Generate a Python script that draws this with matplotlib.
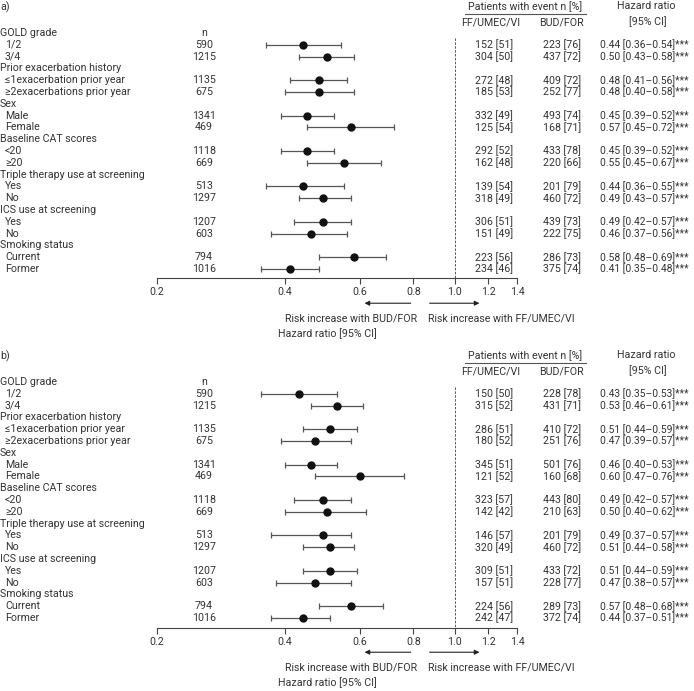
import numpy as np
import matplotlib
matplotlib.use('Agg')
import matplotlib.pyplot as plt
from matplotlib.ticker import NullLocator
from matplotlib.transforms import blended_transform_factory

plt.rcParams['font.family'] = ['Roboto', 'DejaVu Sans']
plt.rcParams['font.size'] = 7.7

groups = ['GOLD grade', 'Prior exacerbation history', 'Sex', 'Baseline CAT scores',
          'Triple therapy use at screening', 'ICS use at screening', 'Smoking status']
subgroups = [['1/2', '3/4'], ['≤1exacerbation prior year', '≥2exacerbations prior year'],
             ['Male', 'Female'], ['<20', '≥20'], ['Yes', 'No'], ['Yes', 'No'], ['Current', 'Former']]
n_pat = [590, 1215, 1135, 675, 1341, 469, 1118, 669, 513, 1297, 1207, 603, 794, 1016]

# panel a
a_hr = [0.44, 0.50, 0.48, 0.48, 0.45, 0.57, 0.45, 0.55, 0.44, 0.49, 0.49, 0.46, 0.58, 0.41]
a_lo = [0.36, 0.43, 0.41, 0.40, 0.39, 0.45, 0.39, 0.45, 0.36, 0.43, 0.42, 0.37, 0.48, 0.35]
a_hi = [0.54, 0.58, 0.56, 0.58, 0.52, 0.72, 0.52, 0.67, 0.55, 0.57, 0.57, 0.56, 0.69, 0.48]
a_ff_n = [152, 304, 272, 185, 332, 125, 292, 162, 139, 318, 306, 151, 223, 234]
a_ff_p = [51, 50, 48, 53, 49, 54, 52, 48, 54, 49, 51, 49, 56, 46]
a_bud_n = [223, 437, 409, 252, 493, 168, 433, 220, 201, 460, 439, 222, 286, 375]
a_bud_p = [76, 72, 72, 77, 74, 71, 78, 66, 79, 72, 73, 75, 73, 74]

# panel b
b_hr = [0.43, 0.53, 0.51, 0.47, 0.46, 0.60, 0.49, 0.50, 0.49, 0.51, 0.51, 0.47, 0.57, 0.44]
b_lo = [0.35, 0.46, 0.44, 0.39, 0.40, 0.47, 0.42, 0.40, 0.37, 0.44, 0.44, 0.38, 0.48, 0.37]
b_hi = [0.53, 0.61, 0.59, 0.57, 0.53, 0.76, 0.57, 0.62, 0.57, 0.58, 0.59, 0.57, 0.68, 0.51]
b_ff_n = [150, 315, 286, 180, 345, 121, 323, 142, 146, 320, 309, 157, 224, 242]
b_ff_p = [50, 52, 51, 52, 51, 52, 57, 42, 57, 49, 51, 51, 56, 47]
b_bud_n = [228, 431, 410, 251, 501, 160, 443, 210, 201, 460, 433, 228, 289, 372]
b_bud_p = [78, 71, 72, 76, 76, 68, 80, 63, 79, 72, 72, 77, 73, 74]

ticks = [0.2, 0.4, 0.6, 0.8, 1.0, 1.2, 1.4]

W, H = 694, 691
TXT = '#333333'
fig = plt.figure(figsize=(W / 100, H / 100), dpi=100)


def draw_panel(letter, y_top, y_gold, y_spine, hr, lo, hi, ff_n, ff_p, bud_n, bud_p):
    s = 11.8
    ax = fig.add_axes([157 / W, 1 - y_spine / H, 360 / W, (y_spine - y_top) / H])
    ax.set_xscale('log')
    ax.set_xlim(0.2, 1.4)
    ax.set_ylim((y_spine - y_gold) / s, (y_top - y_gold) / s)
    for sp in ['left', 'right', 'top']:
        ax.spines[sp].set_visible(False)
    ax.spines['bottom'].set_linewidth(0.8)
    ax.spines['bottom'].set_color('#444444')
    ax.set_yticks([])
    ax.set_xticks(ticks)
    ax.set_xticklabels([f'{t:.1f}' for t in ticks], color=TXT)
    ax.xaxis.set_minor_locator(NullLocator())
    ax.tick_params(axis='x', length=4, width=0.8, color='#444444', pad=2.5)
    ax.patch.set_alpha(0)

    tr = blended_transform_factory(fig.transFigure, ax.transData)
    fx = lambda px: px / W

    rows = []
    r = 0
    for g, subs in zip(groups, subgroups):
        ax.text(fx(0), r, g, transform=tr, va='center', ha='left', color=TXT)
        r += 1
        for sg in subs:
            ax.text(fx(5), r, sg, transform=tr, va='center', ha='left', color=TXT)
            rows.append(r)
            r += 1
    rows = np.array(rows)
    hr, lo, hi = np.array(hr), np.array(lo), np.array(hi)

    ax.plot([1, 1], [0.4, ax.get_ylim()[0]], ls=(0, (2.5, 1.5)), lw=0.7,
            color='#555555', clip_on=False)
    ax.errorbar(hr, rows, xerr=[hr - lo, hi - hr], fmt='o', color='#111111', ms=5,
                ecolor='#555555', elinewidth=0.9, capsize=2.3, capthick=0.9, clip_on=False)

    for i, y in enumerate(rows):
        ax.text(fx(204), y, str(n_pat[i]), transform=tr, ha='center', va='center', color=TXT)
        ax.text(fx(494), y, f'{ff_n[i]} [{ff_p[i]}]', transform=tr, ha='center', va='center', color=TXT)
        ax.text(fx(562), y, f'{bud_n[i]} [{bud_p[i]}]', transform=tr, ha='center', va='center', color=TXT)
        ax.text(fx(600), y, f'{hr[i]:.2f} [{lo[i]:.2f}–{hi[i]:.2f}]***', transform=tr,
                ha='left', va='center', color=TXT, fontsize=7.4)

    ax.text(fx(204), 0, 'n', transform=tr, ha='center', va='center', color=TXT)
    ax.text(fx(0), -2.15, letter, transform=tr, ha='left', va='center', color=TXT)
    ax.text(fx(525), -2.25, 'Patients with event n [%]', transform=tr, ha='center', va='center', color=TXT)
    ax.plot([fx(465), fx(586)], [-1.6, -1.6], transform=tr, color='#555555', lw=0.8, clip_on=False)
    ax.text(fx(491), -0.85, 'FF/UMEC/VI', transform=tr, ha='center', va='center', color=TXT)
    ax.text(fx(561), -0.85, 'BUD/FOR', transform=tr, ha='center', va='center', color=TXT)
    ax.text(fx(646), -2.25, 'Hazard ratio', transform=tr, ha='center', va='center', color=TXT)
    ax.text(fx(648), -0.95, '[95% CI]', transform=tr, ha='center', va='center', color=TXT)

    ya = 22.9
    ax.annotate('', xy=(0.605, ya), xytext=(0.80, ya), annotation_clip=False,
                arrowprops=dict(arrowstyle='-|>', color='#222222', lw=0.8, mutation_scale=7))
    ax.annotate('', xy=(1.16, ya), xytext=(0.86, ya), annotation_clip=False,
                arrowprops=dict(arrowstyle='-|>', color='#222222', lw=0.8, mutation_scale=7))
    ax.text(fx(417), 24.2, 'Risk increase with BUD/FOR', transform=tr, ha='right', va='center', color=TXT)
    ax.text(fx(428), 24.2, 'Risk increase with FF/UMEC/VI', transform=tr, ha='left', va='center', color=TXT)
    ax.text(fx(278), 25.45, 'Hazard ratio [95% CI]', transform=tr, ha='left', va='center', color=TXT)
    return ax


draw_panel('a)', 0, 33, 278, a_hr, a_lo, a_hi, a_ff_n, a_ff_p, a_bud_n, a_bud_p)
draw_panel('b)', 350, 382, 628, b_hr, b_lo, b_hi, b_ff_n, b_ff_p, b_bud_n, b_bud_p)

fig.savefig('out.png', dpi=100, facecolor='white')
